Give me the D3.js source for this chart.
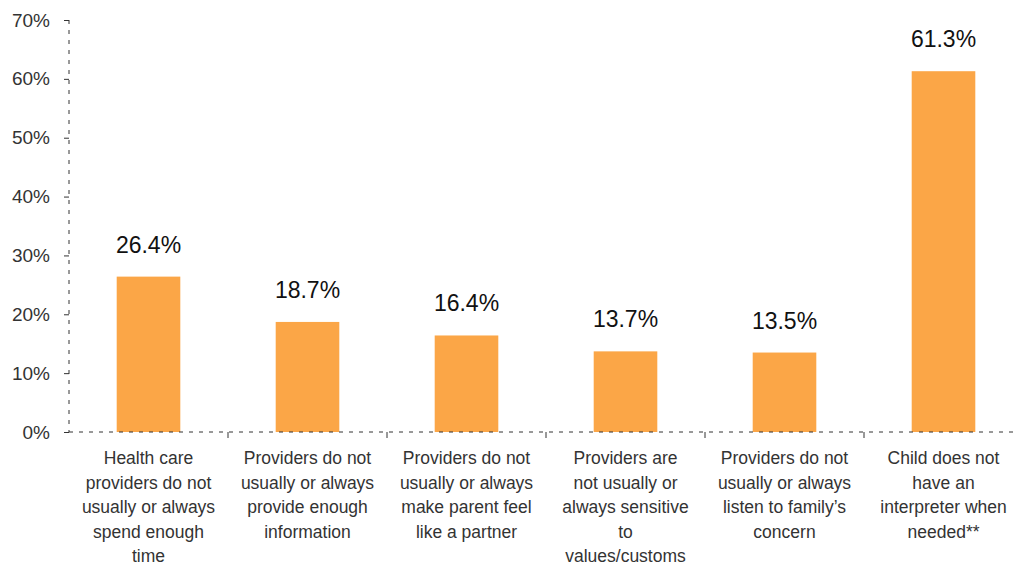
<!DOCTYPE html>
<html><head><meta charset="utf-8">
<script src="https://cdn.jsdelivr.net/npm/d3@7"></script>
<style>body{margin:0;background:#fff}svg{display:block;font-family:"Liberation Sans",Arial,sans-serif}</style>
</head><body><svg id="c" width="1013" height="567"></svg>
<script>
const categories = [
  ["Health care","providers do not","usually or always","spend enough","time"],
  ["Providers do not","usually or always","provide enough","information"],
  ["Providers do not","usually or always","make parent feel","like a partner"],
  ["Providers are","not usually or","always sensitive","to","values/customs"],
  ["Providers do not","usually or always","listen to family\u2019s","concern"],
  ["Child does not","have an","interpreter when","needed**"]
];
const values = [26.4, 18.7, 16.4, 13.7, 13.5, 61.3];
const yTicks = [0,10,20,30,40,50,60,70];

const svg = d3.select("#c");
const x = d3.scaleBand().domain(d3.range(categories.length)).range([69,1023]).paddingInner(0.6).paddingOuter(0.3);
const y = d3.scaleLinear().domain([0,70]).range([432,20]);
const step = x.step();

svg.selectAll("rect.bar").data(values).join("rect")
  .attr("x",(d,i)=>x(i)).attr("width",x.bandwidth())
  .attr("y",d=>y(d)).attr("height",d=>y(0)-y(d))
  .attr("fill","#FBA647");

svg.selectAll("text.val").data(values).join("text")
  .attr("x",(d,i)=>x(i)+x.bandwidth()/2).attr("y",d=>y(d)-24)
  .attr("text-anchor","middle").attr("font-size",23).attr("fill","#111")
  .text(d=>d.toFixed(1)+"%");

const ya = svg.append("g").attr("transform","translate(69,0)")
  .call(d3.axisLeft(y).tickValues(yTicks).tickSize(5).tickFormat(d=>d+"%"));
ya.select(".domain").remove();
ya.selectAll(".tick line").attr("stroke","#333");
ya.selectAll(".tick text").attr("font-size",19).attr("fill","#333").attr("x",-19)
  .attr("font-family","Liberation Sans, Arial, sans-serif");
svg.append("line").attr("x1",69).attr("x2",69).attr("y1",y(70)).attr("y2",y(0))
  .attr("stroke","#333").attr("stroke-dasharray","4,6");

svg.append("line").attr("x1",69).attr("x2",1013).attr("y1",y(0)).attr("y2",y(0))
  .attr("stroke","#333").attr("stroke-dasharray","4,6");
const bounds = d3.range(1,categories.length).map(i=>69+i*step);
svg.selectAll("line.xt").data(bounds).join("line")
  .attr("x1",d=>d).attr("x2",d=>d).attr("y1",y(0)).attr("y2",y(0)+6).attr("stroke","#333");

const g = svg.selectAll("text.cat").data(categories).join("text")
  .attr("text-anchor","middle").attr("font-size",17.5).attr("fill","#333");
g.each(function(lines,i){
  const t = d3.select(this);
  lines.forEach((l,j)=>{
    t.append("tspan").attr("x",x(i)+x.bandwidth()/2).attr("y",464+j*24.5).text(l);
  });
});
</script></body></html>
